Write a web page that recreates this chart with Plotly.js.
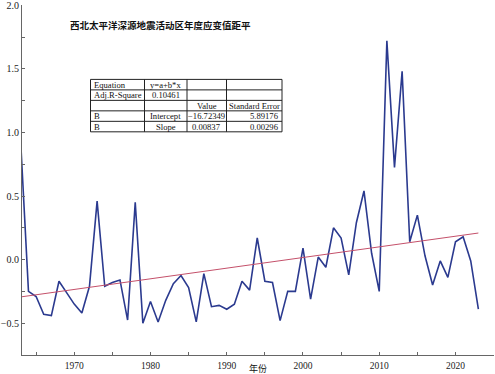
<!DOCTYPE html>
<html>
<head>
<meta charset="utf-8">
<script src="https://cdn.plot.ly/plotly-3.0.1.min.js"></script>
<style>html,body{margin:0;padding:0;background:#fff;}#chart{width:495px;height:374px;}</style>
</head>
<body>
<div id="chart"></div>
<script>
// ---- data ----
const years = [1963,1964,1965,1966,1967,1968,1969,1970,1971,1972,1973,1974,1975,1976,1977,1978,1979,1980,1981,1982,1983,1984,1985,1986,1987,1988,1989,1990,1991,1992,1993,1994,1995,1996,1997,1998,1999,2000,2001,2002,2003,2004,2005,2006,2007,2008,2009,2010,2011,2012,2013,2014,2015,2016,2017,2018,2019,2020,2021,2022,2023];
const anomaly = [0.90,-0.25,-0.29,-0.43,-0.44,-0.17,-0.26,-0.35,-0.42,-0.21,0.46,-0.21,-0.18,-0.16,-0.475,0.45,-0.50,-0.33,-0.49,-0.32,-0.19,-0.125,-0.22,-0.49,-0.11,-0.37,-0.36,-0.39,-0.35,-0.17,-0.24,0.17,-0.17,-0.18,-0.48,-0.25,-0.25,0.09,-0.31,0.02,-0.06,0.25,0.17,-0.12,0.29,0.54,0.05,-0.25,1.72,0.725,1.48,0.14,0.35,0.03,-0.20,-0.01,-0.14,0.14,0.18,-0.01,-0.39];
const fitIntercept = -16.72349;
const fitSlope = 0.00837;
const chartTitle = "西北太平洋深源地震活动区年度应变值距平";
const xTitle = "年份";
const tableRows = [
  ["Equation", "y=a+b*x", "", ""],
  ["Adj.R-Square", "0.10461", "", ""],
  ["", "", "Value", "Standard Error"],
  ["B", "Intercept", "\u221216.72349", "5.89176"],
  ["B", "Slope", "0.00837", "0.00296"]
];
const xTickVals = [1970,1980,1990,2000,2010,2020];
const yTickVals = [-0.5,0,0.5,1.0,1.5,2.0];
const yTickText = ["\u22120.5","0.0","0.5","1.0","1.5","2.0"];

// ---- layout geometry (pixels) ----
const W = 495, H = 374;
const mL = 22, mR = 1, mT = 4.5, mB = 19;
const pw = W - mL - mR, ph = H - mT - mB;
const px = x => (x - mL) / pw;
const py = y => (H - mB - y) / ph;

const trendX = [years[0], years[years.length-1]];
const trendY = trendX.map(v => fitIntercept + fitSlope * v);

const traces = [
  {x: years, y: anomaly, type: 'scatter', mode: 'lines',
   line: {color: '#2b3a8f', width: 1.6}, hoverinfo: 'skip'},
  {x: trendX, y: trendY, type: 'scatter', mode: 'lines',
   line: {color: '#c4506a', width: 1}, hoverinfo: 'skip'}
];

// table grid
const colX = [90.5, 144.5, 187, 226.5, 282];
const rowY = [79, 89.5, 100, 110.5, 121, 131.5];
const shapes = [];
colX.forEach(x => shapes.push({type:'line', xref:'paper', yref:'paper', x0:px(x), x1:px(x), y0:py(rowY[0]), y1:py(rowY[rowY.length-1]), line:{color:'#222', width:1}}));
rowY.forEach(y => shapes.push({type:'line', xref:'paper', yref:'paper', x0:px(colX[0]), x1:px(colX[colX.length-1]), y0:py(y), y1:py(y), line:{color:'#222', width:1}}));

const aligns = [
  ['left','center','center','center'],
  ['left','center','center','center'],
  ['left','center','center','center'],
  ['left','center','center','right'],
  ['left','center','center','right']
];
const annotations = [];
const tfont = {family: 'Liberation Serif, serif', size: 8.6, color: '#111'};
tableRows.forEach((row, r) => {
  row.forEach((txt, c) => {
    if (!txt) return;
    const a = aligns[r][c];
    let x, xa;
    if (a === 'left') { x = colX[c] + 1.5; xa = 'left'; }
    else if (a === 'right') { x = colX[c+1] - 1.5; xa = 'right'; }
    else { x = (colX[c] + colX[c+1]) / 2; xa = 'center'; }
    annotations.push({xref:'paper', yref:'paper', x: px(x), y: py((rowY[r] + rowY[r+1]) / 2),
      xanchor: xa, yanchor: 'middle', text: txt, showarrow: false, font: tfont});
  });
});
annotations.push({xref:'paper', yref:'paper', x: px(68), y: py(25), xanchor:'left', yanchor:'middle',
  text: '<b>' + chartTitle + '</b>', showarrow:false,
  font:{family:'Liberation Serif, Noto Sans CJK SC, serif', size: 9.5, color:'#111'}});
annotations.push({xref:'paper', yref:'paper', x: px(258), y: py(368.5), xanchor:'center', yanchor:'middle',
  text: xTitle, showarrow:false,
  font:{family:'Liberation Serif, Noto Sans CJK SC, serif', size: 9, color:'#111'}});

const layout = {
  width: W, height: H,
  margin: {l: mL, r: mR, t: mT, b: mB, pad: 0},
  paper_bgcolor: '#fff', plot_bgcolor: '#fff',
  showlegend: false,
  font: {family: 'Liberation Serif, serif', size: 10, color: '#222'},
  xaxis: {
    range: [1963.15, 2025.05], showgrid: false, zeroline: false,
    showline: true, linecolor: '#666', linewidth: 1,
    ticks: 'inside', ticklen: 3, tickcolor: '#666', tickwidth: 1,
    tickvals: xTickVals, ticktext: xTickVals.map(String),
    tickfont: {family: 'Liberation Serif, serif', size: 9.5, color: '#222'},
    minor: {ticks: 'inside', ticklen: 3, tickcolor: '#666', dtick: 5, tick0: 1965},
    ticklabelstandoff: 2, ticklabeloverflow: 'allow'
  },
  yaxis: {
    range: [-0.75, 2.002], showgrid: false, zeroline: false,
    showline: true, linecolor: '#666', linewidth: 1,
    ticks: 'inside', ticklen: 3, tickcolor: '#666', tickwidth: 1,
    tickvals: yTickVals, ticktext: yTickText,
    tickfont: {family: 'Liberation Serif, serif', size: 10, color: '#222'},
    minor: {ticks: 'inside', ticklen: 3, tickcolor: '#666', dtick: 0.25, tick0: 0},
    ticklabeloverflow: 'allow'
  },
  shapes: shapes,
  annotations: annotations
};

Plotly.newPlot('chart', traces, layout, {staticPlot: true, displayModeBar: false});
</script>
</body>
</html>
